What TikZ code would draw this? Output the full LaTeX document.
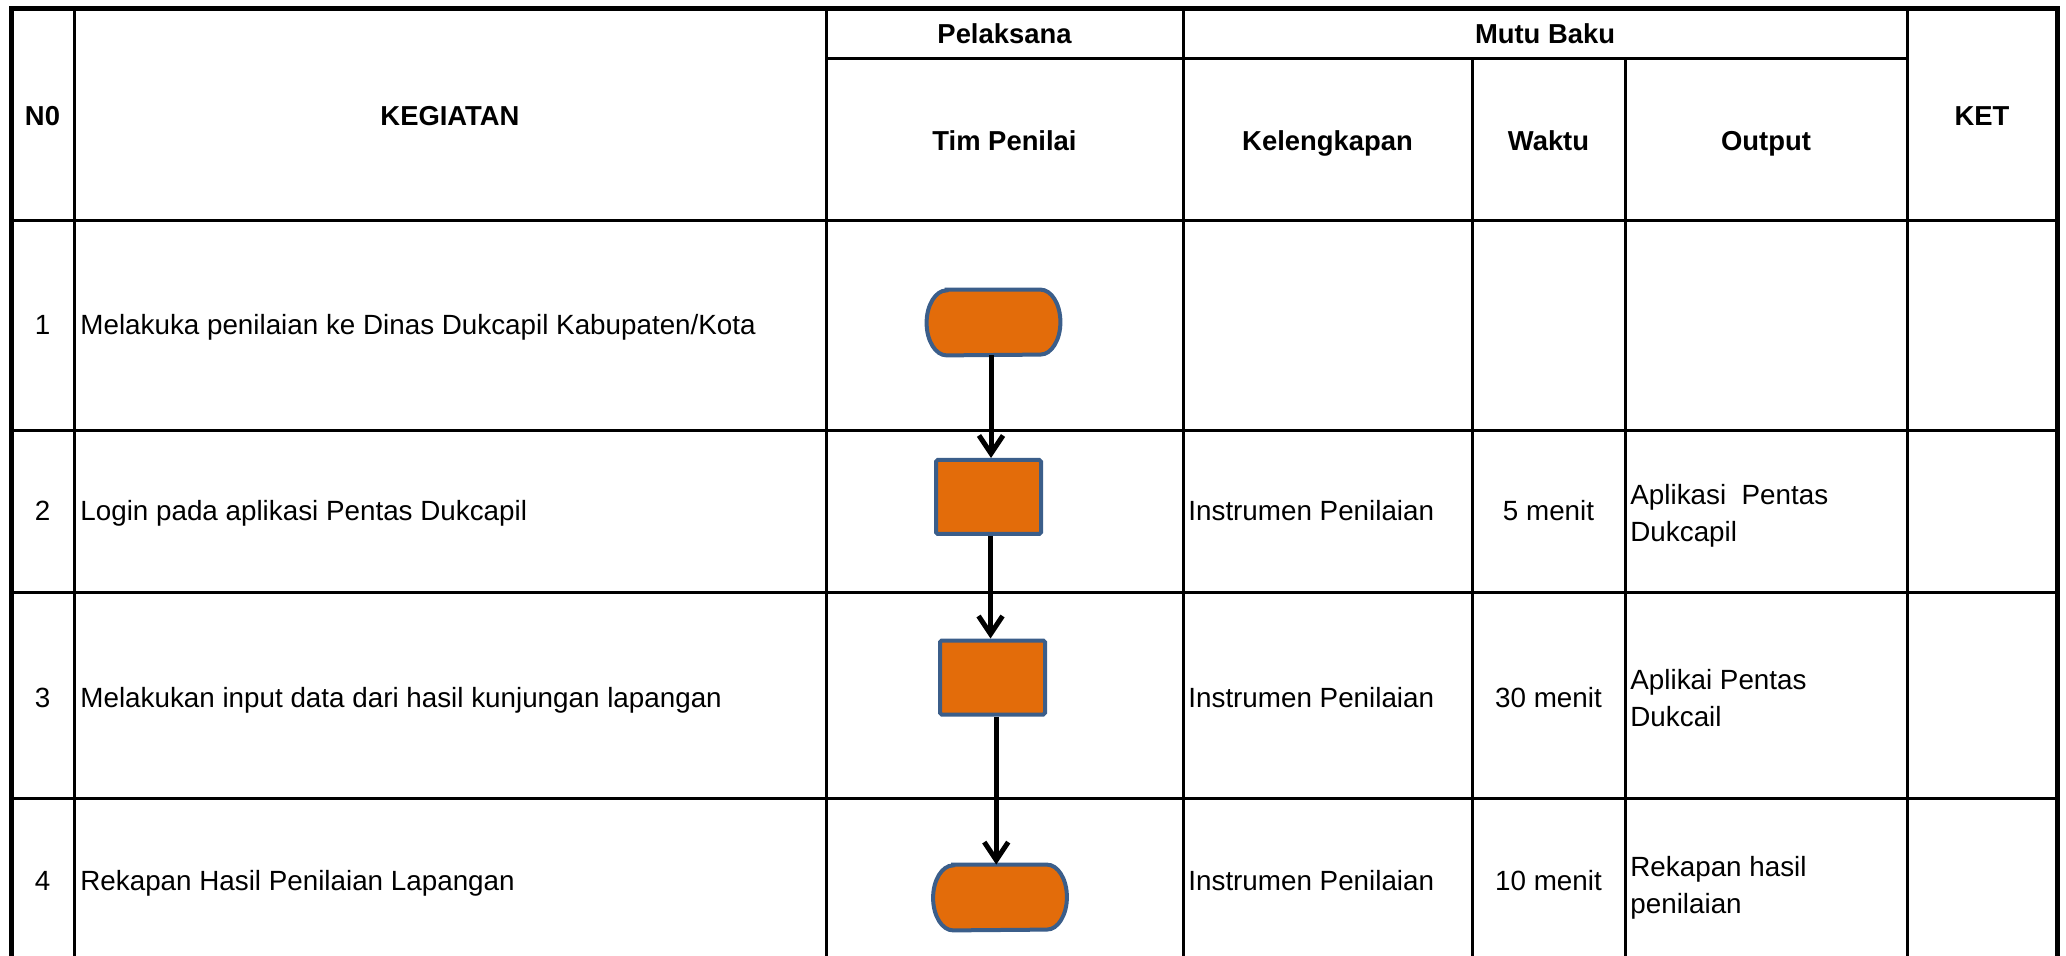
\documentclass[tikz,border=0pt]{standalone}
\usepackage{fontspec}
\setmainfont{Liberation Sans}
\usetikzlibrary{arrows.meta,calc}
\definecolor{shapeorange}{HTML}{E36C0A}
\definecolor{shapeblue}{HTML}{3B5E8A}
\begin{document}
\begin{tikzpicture}[x=0.5pt,y=-0.5pt,
  outerline/.style={line width=2.5pt, line join=miter},
  gridline/.style={line width=1.5pt},
  head/.style={font=\fontsize{13.7}{16}\selectfont\bfseries, inner sep=0pt},
  body/.style={font=\fontsize{13.9}{18.5}\selectfont, inner sep=0pt, align=left},
  procbox/.style={rectangle, draw=shapeblue, fill=shapeorange, line width=2pt,
    minimum width=52.5pt, minimum height=37pt, inner sep=0pt, rounded corners=0.8pt},
  termnode/.style={rectangle, minimum width=66.5pt, minimum height=32.5pt, inner sep=0pt},
  termline/.style={draw=shapeblue, fill=shapeorange, line width=2pt},
  flow/.style={line width=2.5pt, -{Straight Barb[length=9pt,width=12pt]}}
]
\useasboundingbox (0,0) rectangle (2066,956);
\clip (0,0) rectangle (2066,956);

% grid
\draw[gridline] (74,8.5) -- (74,970);
\draw[gridline] (826,8.5) -- (826,970);
\draw[gridline] (1183,8.5) -- (1183,970);
\draw[gridline] (1472,58.5) -- (1472,970);
\draw[gridline] (1625,58.5) -- (1625,970);
\draw[gridline] (1907,8.5) -- (1907,970);
\draw[gridline] (826,58.5) -- (1907,58.5);
\draw[gridline] (11,221) -- (2057,221);
\draw[gridline] (11,430.5) -- (2057,430.5);
\draw[gridline] (11,592.5) -- (2057,592.5);
\draw[gridline] (11,798) -- (2057,798);
\draw[outerline] (11,970) -- (11,8.5) -- (2057,8.5) -- (2057,970);

% header
\node[head, anchor=base] (hno)   at (42.5,126) {N0};
\node[head, anchor=base] (hkeg)  at (450,126) {KEGIATAN};
\node[head, anchor=base] (hpel)  at (1004.5,44) {Pelaksana};
\node[head, anchor=base] (htim)  at (1004.5,151) {Tim Penilai};
\node[head, anchor=base] (hmutu) at (1545,44) {Mutu Baku};
\node[head, anchor=base] (hkel)  at (1327.5,151) {Kelengkapan};
\node[head, anchor=base] (hwak)  at (1548.5,151) {Waktu};
\node[head, anchor=base] (hout)  at (1766,151) {Output};
\node[head, anchor=base] (hket)  at (1982,126) {KET};

% rows
\node[body, anchor=base] (n1) at (42.5,335) {1};
\node[body, anchor=base] (n2) at (42.5,521) {2};
\node[body, anchor=base] (n3) at (42.5,707) {3};
\node[body, anchor=base] (n4) at (42.5,890) {4};
\node[body, anchor=base west] (k1) at (80,335) {Melakuka penilaian ke Dinas Dukcapil Kabupaten/Kota};
\node[body, anchor=base west] (k2) at (80,521) {Login pada aplikasi Pentas Dukcapil};
\node[body, anchor=base west] (k3) at (80,707) {Melakukan input data dari hasil kunjungan lapangan};
\node[body, anchor=base west] (k4) at (80,890) {Rekapan Hasil Penilaian Lapangan};
\node[body, anchor=base west] (kel2) at (1188,521) {Instrumen Penilaian};
\node[body, anchor=base west] (kel3) at (1188,707) {Instrumen Penilaian};
\node[body, anchor=base west] (kel4) at (1188,890) {Instrumen Penilaian};
\node[body, anchor=base] (w2) at (1548.5,521) {5 menit};
\node[body, anchor=base] (w3) at (1548.5,707) {30 menit};
\node[body, anchor=base] (w4) at (1548.5,890) {10 menit};
\node[body, anchor=north west] (o2) at (1630,484) {Aplikasi~ Pentas\\Dukcapil};
\node[body, anchor=north west] (o3) at (1630,669) {Aplikai Pentas\\Dukcail};
\node[body, anchor=north west] (o4) at (1630,856) {Rekapan hasil\\penilaian};

% flowchart
\node[termnode] (t1) at (993.5,322.5) {};
\draw[termline] ([xshift=10pt]t1.north west) -- ([xshift=-10pt]t1.north east)
  arc[start angle=90, end angle=-90, x radius=10pt, y radius=16.25pt]
  -- ([xshift=10pt]t1.south west)
  arc[start angle=270, end angle=90, x radius=10pt, y radius=16.25pt] -- cycle;
\node[procbox] (r2) at (988.5,497) {};
\node[procbox] (r3) at (992.5,677.5) {};
\node[termnode] (t4) at (1000,897.5) {};
\draw[termline] ([xshift=10pt]t4.north west) -- ([xshift=-10pt]t4.north east)
  arc[start angle=90, end angle=-90, x radius=10pt, y radius=16.25pt]
  -- ([xshift=10pt]t4.south west)
  arc[start angle=270, end angle=90, x radius=10pt, y radius=16.25pt] -- cycle;

\coordinate (m1) at ($(t1.south)!0.5!(r2.north)$);
\coordinate (m2) at ($(r2.south)!0.5!(r3.north)$);
\coordinate (m3) at ($(r3.south)!0.5!(t4.north)$);
\draw[flow] (m1 |- t1.south) -- (m1 |- r2.north);
\draw[flow] (m2 |- r2.south) -- (m2 |- r3.north);
\draw[flow] (m3 |- r3.south) -- (m3 |- t4.north);
\end{tikzpicture}
\end{document}
